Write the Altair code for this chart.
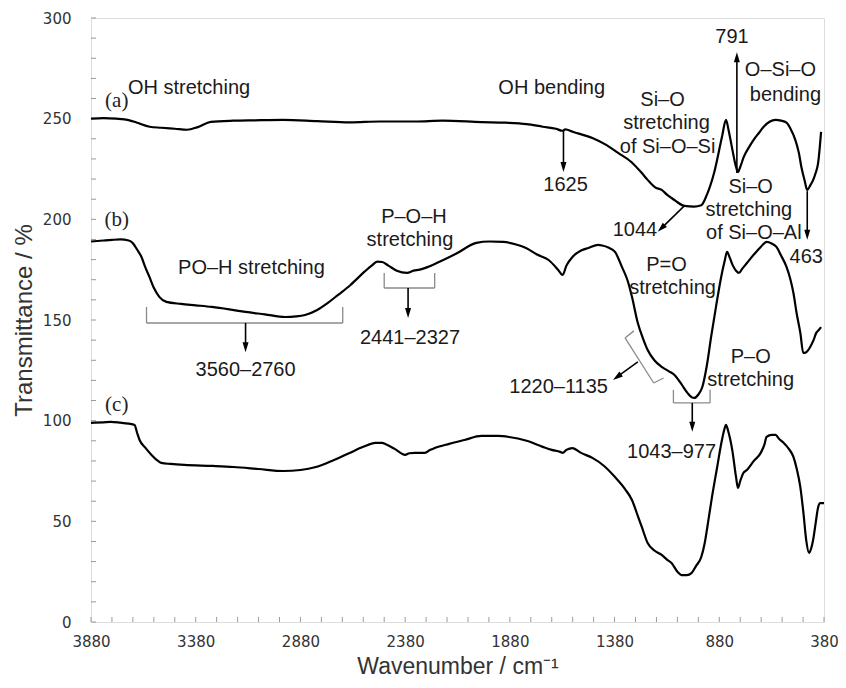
import altair as alt
import pandas as pd

# ---------------- data ----------------
wn_a = [3880, 3820, 3760, 3700, 3660, 3600, 3544, 3480, 3421, 3370, 3308, 3200, 3100, 2962, 2800,
        2645, 2500, 2333, 2200, 2016, 1900, 1800, 1723, 1660, 1630, 1615, 1580, 1486, 1420, 1363,
        1300, 1250, 1222, 1188, 1155, 1127, 1094, 1080, 1047, 1000, 966, 940, 905, 867, 848, 835,
        820, 800, 791, 780, 763, 740, 716, 690, 668, 640, 611, 585, 559, 540, 517, 500, 488, 472,
        460, 445, 432, 420, 408, 400, 394]
tr_a = [250, 250.3, 250, 249.3, 248, 246, 245.5, 245, 244.5, 245.8, 248.4, 249, 249.2, 249.4, 248.8,
        248.2, 248.6, 248.6, 249, 248.3, 248, 247.3, 246, 245, 244, 244.7, 243.5, 240.4, 237, 233,
        228.5, 223, 219.6, 216, 214.6, 212, 209.6, 208.5, 206.7, 206.3, 207, 212, 223, 241, 249.4, 244,
        236, 226, 223.5, 226, 231, 235.5, 239.5, 243, 246, 248.5, 249.4, 249, 248, 245, 239.5, 233, 226, 219,
        214.6, 217, 219.5, 223, 228, 236, 243.4]

wn_b = [3880, 3820, 3780, 3740, 3700, 3681, 3660, 3639, 3620, 3601, 3580, 3554, 3520, 3450, 3380,
        3303, 3220, 3142, 3050, 2953, 2900, 2858, 2800, 2749, 2700, 2641, 2574, 2540, 2513, 2490,
        2460, 2420, 2371, 2340, 2310, 2280, 2229, 2135, 2040, 1978, 1912, 1850, 1803, 1750, 1695,
        1650, 1628, 1610, 1581, 1540, 1505, 1458, 1439, 1410, 1378, 1345, 1316, 1297, 1269, 1245,
        1222, 1190, 1155, 1120, 1094, 1060, 1032, 1010, 999, 980, 961, 940, 919, 895, 871, 855, 843,
        830, 815, 800, 786, 770, 748, 715, 682, 654, 630, 607, 585, 559, 540, 526, 510, 493, 479,
        465, 446, 430, 417, 405, 394]
tr_b = [189, 189.5, 189.8, 190, 189.5, 188.3, 185, 181.3, 176, 171.4, 166, 161.5, 159, 158, 157.3,
        156.5, 155.3, 154, 152.8, 151.5, 151.8, 152.5, 155, 158.5, 162.5, 167.4, 174, 177, 179, 178.8,
        177, 174.5, 173.4, 174.5, 175, 176, 178.3, 183, 188.3, 189, 188.8, 187.5, 185.8, 182.5, 179.8,
        175, 172.4, 177, 181.3, 184.5, 185.8, 187.3, 187, 186, 183.8, 176.4, 169, 161.5, 148.5, 141,
        135.1, 130, 126.7, 124.5, 122.7, 118, 113.8, 111.5, 111.3, 113, 116.7, 127, 141.6, 157, 171.4, 179, 183.8,
        181, 177, 174.5, 173.4, 175.5, 178.3, 182.5, 186.3, 188.8, 188, 186.3, 182, 176.4, 170, 163.4, 153, 143.6, 133.6,
        134, 136.6, 140, 143.6, 145, 146.5]

wn_c = [3880, 3820, 3785, 3740, 3700, 3672, 3660, 3648, 3620, 3591, 3560, 3544, 3500, 3435, 3300,
        3199, 3080, 2962, 2880, 2806, 2720, 2645, 2580, 2522, 2490, 2475, 2430, 2380, 2360, 2333,
        2300, 2286, 2260, 2239, 2170, 2097, 2016, 1936, 1884, 1800, 1723, 1680, 1640, 1628, 1610,
        1581, 1540, 1486, 1430, 1378, 1330, 1297, 1270, 1250, 1222, 1190, 1155, 1130, 1108, 1080,
        1061, 1035, 1013, 990, 966, 950, 937, 915, 890, 870, 855, 848, 838, 818, 800, 791, 780, 765,
        748, 715, 682, 665, 654, 630, 611, 595, 573, 548, 526, 510, 493, 478, 465, 451, 440, 432,
        420, 408, 398, 380]
tr_c = [98.9, 99.2, 99.4, 99, 98.5, 97.9, 94, 90.4, 86.5, 83, 80, 79, 78.5, 78, 77.5,
        77, 76, 75, 75.5, 77, 80.5, 84, 87, 89, 89, 88.4, 86, 83, 83.8, 84,
        84, 84, 85.5, 86.4, 88.5, 90.4, 92.4, 92.4, 91.9, 90, 87, 85.5, 84.5, 84, 85.5,
        86.4, 84, 81.5, 77.5, 72, 66, 60.6, 53, 47.2, 39.2, 35.5, 33.3, 31, 29.3, 25,
        23.3, 23.3, 24.3, 28, 32.3, 39, 47.2, 62, 77, 89, 96, 97.9, 95, 85.4, 72, 66.6, 70, 74,
        75.5, 80, 84, 88, 91.9, 92.9, 92.9, 91, 89, 86, 82, 76, 67, 54, 40.7, 34.3, 37, 40.7,
        49, 57, 59, 59]

x_ticks = [3880, 3380, 2880, 2380, 1880, 1380, 880, 380]
y_ticks = [0, 50, 100, 150, 200, 250, 300]

# sample labels (serif)
sample_text = ["(a)", "(b)", "(c)"]
sample_w = [3757, 3757, 3757]
sample_t = [259, 199.5, 108]

# annotation texts
note_text = ["OH stretching", "OH bending", "791", "O\u2013Si\u2013O", "bending",
             "Si\u2013O", "stretching", "of Si\u2013O\u2013Si",
             "Si\u2013O", "stretching", "of Si\u2013O\u2013Al",
             "1044", "463", "1625", "P=O", "stretching", "P\u2013O", "stretching",
             "1220\u20131135", "1043\u2013977", "PO\u2013H stretching", "3560\u20132760",
             "P\u2013O\u2013H", "stretching", "2441\u20132327"]
note_w = [3412, 1680, 819, 588, 564,
          1151, 1132, 1127,
          730, 739, 715,
          1283, 465, 1614, 1132, 1103, 730, 730,
          1647, 1108, 3114, 3142,
          2338, 2357, 2357]
note_t = [265.3, 265.3, 290.6, 274.2, 261.8,
          259.3, 247.9, 236,
          216, 204.7, 193.2,
          194.7, 181.3, 217.1, 177.3, 165.9, 131.6, 120.2,
          116.7, 84.5, 175.9, 125.2,
          201.2, 189.8, 141.1]

# black arrow shafts (start -> head) and heads
arrow_w1 = [3142, 2366, 1624, 1047, 1269, 796, 460, 1009]
arrow_t1 = [148.5, 165.9, 244.4, 206.7, 129.2, 223.0, 214.0, 108.8]
arrow_w2 = [3142, 2366, 1624, 1157, 1368, 796, 460, 1009]
arrow_t2 = [136.5, 153.5, 226.0, 195.5, 121.7, 280.5, 192.3, 97.0]
arrow_angle = [180, 180, 180, 226, 234, 0, 180, 180]

# grey brackets (segments)
brk_w1 = [3615, 3615, 2678, 2480, 2480, 2239, 1330, 1330, 1193, 1099, 1099, 924]
brk_t1 = [148.5, 148.5, 148.5, 165.9, 165.9, 165.9, 141.1, 141.1, 118.7, 108.8, 108.8, 108.8]
brk_w2 = [2678, 3615, 2678, 2239, 2480, 2239, 1193, 1288, 1146, 924, 1099, 924]
brk_t2 = [148.5, 156.5, 156.5, 165.9, 173.4, 173.4, 118.7, 144.6, 121.2, 108.8, 115.3, 115.3]

minor_x = list(range(380, 3881, 100))
minor_y = list(range(0, 301, 10))

# ---------------- build tables ----------------
curves = pd.concat([
    pd.DataFrame({"w": wn_a, "T": tr_a, "s": "a"}),
    pd.DataFrame({"w": wn_b, "T": tr_b, "s": "b"}),
    pd.DataFrame({"w": wn_c, "T": tr_c, "s": "c"}),
])
samples = pd.DataFrame({"w": sample_w, "T": sample_t, "label": sample_text})
notes = pd.DataFrame({"w": note_w, "T": note_t, "label": note_text})
arrows = pd.DataFrame({"w": arrow_w1, "T": arrow_t1, "w2": arrow_w2, "T2": arrow_t2, "ang": arrow_angle})
brackets = pd.DataFrame({"w": brk_w1, "T": brk_t1, "w2": brk_w2, "T2": brk_t2})
mx = pd.DataFrame({"w": minor_x, "T0": 0.0, "T1": 2.5})
my = pd.DataFrame({"T": minor_y, "w0": 3880.0, "w1": 3856.0})

W, H = 733, 604
xscale = alt.Scale(domain=[3880, 380], nice=False, zero=False)
yscale = alt.Scale(domain=[0, 300], nice=False, zero=False)
xaxis = alt.Axis(values=x_ticks, format="d", grid=False, domain=False, ticks=False,
                 labelFont="DejaVu Sans", labelFontSize=15, labelColor="#333333",
                 labelPadding=12, labelFlush=False,
                 title="Wavenumber / cm\u207b\u00b9", titleFont="Liberation Sans",
                 titleFontSize=23, titleFontWeight="normal", titleColor="#333333",
                 titlePadding=6)
yaxis = alt.Axis(values=y_ticks, format="d", grid=False, domain=False, ticks=False,
                 labelFont="DejaVu Sans", labelFontSize=15, labelColor="#333333",
                 labelPadding=20, labelFlush=False,
                 title="Transmittance / %", titleFont="Liberation Sans",
                 titleFontSize=24, titleFontWeight="normal", titleColor="#333333",
                 titlePadding=6)


def X(f="w"):
    return alt.X(f, type="quantitative", scale=xscale, axis=xaxis)


def Y(f="T"):
    return alt.Y(f, type="quantitative", scale=yscale, axis=yaxis)


lines = alt.Chart(curves).mark_line(color="black", strokeWidth=2.2, interpolate="monotone").encode(
    x=X(), y=Y(), detail="s:N", order=alt.Order("w:Q", sort="descending"))

tick_x = alt.Chart(mx).mark_rule(color="#9a9a9a", strokeWidth=1).encode(
    x=X(), y=Y("T0"), y2="T1")
tick_y = alt.Chart(my).mark_rule(color="#9a9a9a", strokeWidth=1).encode(
    y=Y(), x=X("w0"), x2="w1")

brk = alt.Chart(brackets).mark_rule(color="#8a8a8a", strokeWidth=1.3).encode(
    x=X(), y=Y(), x2="w2", y2="T2")
shafts = alt.Chart(arrows).mark_rule(color="black", strokeWidth=1.6).encode(
    x=X(), y=Y(), x2="w2", y2="T2")
heads = alt.Chart(arrows).mark_point(shape="M0,-1L0.6,1L-0.6,1Z", filled=True, color="black",
                                     size=100, opacity=1).encode(
    x=X("w2"), y=Y("T2"), angle=alt.Angle("ang:Q", scale=None))

sample_txt = alt.Chart(samples).mark_text(font="Liberation Serif", fontSize=21, color="#222222",
                                          align="center", baseline="middle").encode(
    x=X(), y=Y(), text="label:N")
note_txt = alt.Chart(notes).mark_text(font="Liberation Sans", fontSize=20, color="#1a1a1a",
                                      align="center", baseline="middle").encode(
    x=X(), y=Y(), text="label:N")

chart = alt.layer(tick_x, tick_y, brk, lines, shafts, heads, sample_txt, note_txt).properties(
    width=W, height=H,
    autosize=alt.AutoSizeParams(type="none"),
    padding={"left": 83, "top": 10, "right": 14, "bottom": 58},
).configure_view(stroke="#c0c0c0", strokeWidth=1).configure(background="white")

chart.save("out.html", embed_options={"renderer": "svg", "actions": False})
